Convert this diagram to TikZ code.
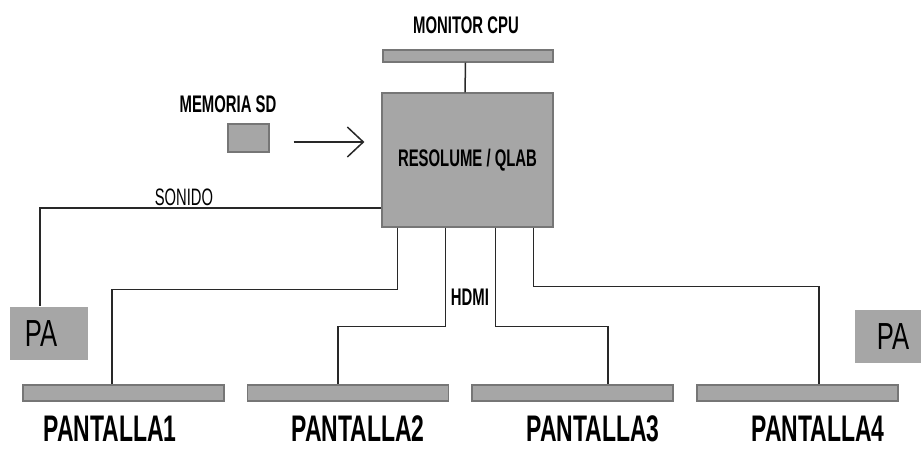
\documentclass[tikz,border=0pt]{standalone}
\usepackage{fontspec}
\usepackage{tikz}
\usetikzlibrary{arrows.meta,positioning}
\newfontfamily\narrowfont[FakeStretch=0.62]{Liberation Sans}
\newfontfamily\pafont[FakeStretch=0.68]{Liberation Sans}
\definecolor{boxgray}{RGB}{166,166,166}
\definecolor{edgegray}{RGB}{118,118,118}
\definecolor{cablecol}{RGB}{40,40,40}

\begin{document}
\begin{tikzpicture} [
    x=1pt, y=-1pt,
    gray box/.style={draw=edgegray, fill=boxgray, line width=1.2pt, inner sep=0pt},
    screen bar/.style={gray box, minimum width=201pt, minimum height=16pt},
    small label/.style={inner sep=0pt, font=\narrowfont\bfseries\fontsize{24}{26}\selectfont},
    screen label/.style={inner sep=0pt, font=\narrowfont\bfseries\fontsize{37}{40}\selectfont},
    pa box/.style={gray box, draw=none, minimum height=53pt, font=\pafont\fontsize{37.7}{40}\selectfont},
    cable/.style={draw=cablecol, line width=1.5pt}
  ]

  \useasboundingbox (0,0) rectangle (921,450);

  % control computer
  \node [gray box, minimum width=171pt, minimum height=134pt, small label] (cpu) at (467.5,160) {RESOLUME / QLAB};
  \node [gray box, minimum width=170pt, minimum height=12pt] (monitor) at (468,56) {};
  \node [small label] (monitorlbl) at (466,25) {MONITOR CPU};

  % memory card
  \node [gray box, minimum width=41pt, minimum height=28pt] (sd) at (248.5,138) {};
  \node [small label] (sdlbl) at (228,104) {MEMORIA SD};

  % speakers
  \node [pa box, minimum width=78pt] (paL) at (49,333.5) {PA\hspace*{16pt}};
  \node [pa box, minimum width=66pt] (paR) at (888,336.5) {\hspace*{10pt}PA};

  % screens
  \node [screen bar] (p1) at (123.5,393) {};
  \node [screen bar] (p2) at (348,393) {};
  \node [screen bar] (p3) at (572.5,393) {};
  \node [screen bar] (p4) at (797.5,393) {};
  \node [screen label] (p1lbl) at (110,429) {PANTALLA1};
  \node [screen label] (p2lbl) at (358,429) {PANTALLA2};
  \node [screen label] (p3lbl) at (593,429) {PANTALLA3};
  \node [screen label] (p4lbl) at (818,429) {PANTALLA4};

  % connections
  \draw [cable] ([xshift=-2.5pt]monitor.south) -- ([xshift=-2.5pt]cpu.north);
  \coordinate (arrS) at ([xshift=24pt,yshift=-4pt]sd.east);
  \draw [cable, -{Straight Barb[length=16pt,width=30pt]}, shorten >=17pt] (arrS) -- (arrS -| cpu.west);

  \draw [cable] ([yshift=-48pt]cpu.west) -| ([xshift=-9pt]paL.north);
  \node [inner sep=0pt, font=\narrowfont\fontsize{23.8}{26}\selectfont] (sonido) at (184,197) {SONIDO};

  \draw [cable] ([xshift=16pt]cpu.south west) -- ++(0,62) -| ([xshift=-11.5pt]p1.north);
  \draw [cable] ([xshift=64pt]cpu.south west) -- ++(0,99) -| ([xshift=-10pt]p2.north);
  \draw [cable] ([xshift=114pt]cpu.south west) -- ++(0,99) -| ([xshift=35.5pt]p3.north);
  \draw [cable] ([xshift=152pt]cpu.south west) -- ++(0,59) -| ([xshift=21.5pt]p4.north);
  \node [small label] (hdmi) at (470,297) {HDMI};
\end{tikzpicture}
\end{document}
